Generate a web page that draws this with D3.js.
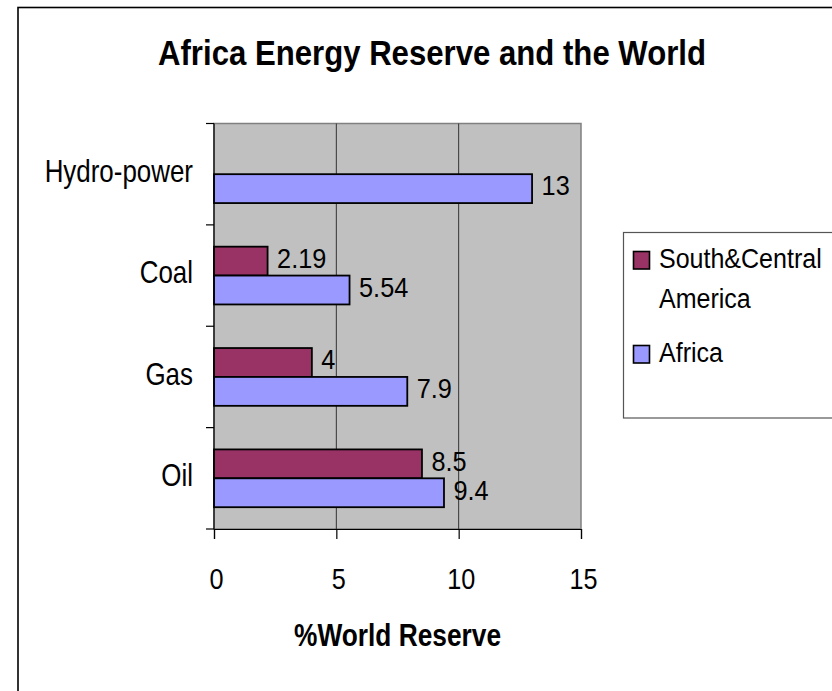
<!DOCTYPE html>
<html>
<head>
<meta charset="utf-8">
<script src="https://cdn.jsdelivr.net/npm/d3@7/dist/d3.min.js"></script>
<style>
  html, body { margin: 0; padding: 0; background: #fff; }
  svg { display: block; }
  text { font-family: "Liberation Sans", Arial, Helvetica, sans-serif; fill: #000; }
</style>
</head>
<body>
<svg id="chart" width="832" height="691"></svg>
<script>
// ---- data ----
const categories = ["Hydro-power", "Coal", "Gas", "Oil"];
const seriesNames = ["South&Central America", "Africa"];
const southCentralAmerica = [null, 2.19, 4, 8.5];
const africa = [13, 5.54, 7.9, 9.4];
const valueLabels = { sca: [null, "2.19", "4", "8.5"], africa: ["13", "5.54", "7.9", "9.4"] };
const xTicks = [0, 5, 10, 15];
const titleText = "Africa Energy Reserve and the World";
const xAxisTitle = "%World Reserve";

// ---- styles ----
const colors = ["#993366", "#9999FF"];
const svg = d3.select("#chart");

function condensedText(g, x, y, txt, size, sx, anchor, weight) {
  return g.append("text")
    .attr("transform", `translate(${x},${y}) scale(${sx},1)`)
    .attr("text-anchor", anchor || "start")
    .attr("font-size", size)
    .attr("font-weight", weight || "normal")
    .text(txt);
}

// outer chart border
svg.append("rect").attr("x", 18).attr("y", 7.5).attr("width", 900).attr("height", 900)
  .attr("fill", "#fff").attr("stroke", "#000").attr("stroke-width", 1.6);

const plot = { left: 214, right: 581, top: 123.5, bottom: 529 };
const x = d3.scaleLinear().domain([0, 15]).range([plot.left, plot.right]);
const y = d3.scaleBand().domain(categories).range([plot.top, plot.bottom]).padding(0);
const inner = d3.scaleBand().domain([0, 1]).range([y.bandwidth() * 0.215, y.bandwidth() * 0.785]).padding(0);

// plot background
svg.append("rect").attr("x", plot.left).attr("y", plot.top)
  .attr("width", plot.right - plot.left).attr("height", plot.bottom - plot.top)
  .attr("fill", "#C0C0C0").attr("stroke", "#808080").attr("stroke-width", 1.5);

// gridlines
svg.append("g").selectAll("line").data(xTicks.filter(t => t > 0 && t < 15)).join("line")
  .attr("x1", d => x(d)).attr("x2", d => x(d))
  .attr("y1", plot.top).attr("y2", plot.bottom)
  .attr("stroke", "#333").attr("stroke-width", 1);

// bars
const series = [southCentralAmerica, africa];
const labelsArr = [valueLabels.sca, valueLabels.africa];
series.forEach((vals, si) => {
  const data = categories.map((c, i) => ({ c, v: vals[i], lab: labelsArr[si][i] })).filter(d => d.v != null);
  svg.append("g").selectAll("rect").data(data).join("rect")
    .attr("x", x(0))
    .attr("y", d => y(d.c) + inner(si))
    .attr("width", d => x(d.v) - x(0))
    .attr("height", inner.bandwidth())
    .attr("fill", colors[si])
    .attr("stroke", "#000").attr("stroke-width", 1.8);
  const lg = svg.append("g");
  data.forEach(d => {
    condensedText(lg, x(d.v) + 9.5, y(d.c) + inner(si) + inner.bandwidth() / 2 + 6.8, d.lab, 27.5, 0.92);
  });
});

// left axis line and ticks
svg.append("line").attr("x1", plot.left).attr("x2", plot.left)
  .attr("y1", plot.top).attr("y2", plot.bottom).attr("stroke", "#000").attr("stroke-width", 1.2);
const bounds = categories.map(c => y(c)).concat([plot.bottom]);
svg.append("g").selectAll("line").data(bounds).join("line")
  .attr("x1", plot.left - 8).attr("x2", plot.left)
  .attr("y1", d => d).attr("y2", d => d)
  .attr("stroke", "#000").attr("stroke-width", 1.2);
const catG = svg.append("g");
categories.forEach(c => {
  condensedText(catG, 193, y(c) + y.bandwidth() / 2 + 7.8, c, 30.5, 0.85, "end");
});

// bottom axis
const xAxis = d3.axisBottom(x).tickValues(xTicks).tickSize(10).tickPadding(0).tickFormat(d3.format("d"));
const gx = svg.append("g").attr("transform", `translate(0,${plot.bottom})`).call(xAxis);
gx.select(".domain").attr("stroke", "#000").attr("stroke-width", 1.2);
gx.selectAll(".tick line").attr("stroke", "#000").attr("stroke-width", 1.2);
gx.selectAll(".tick text")
  .attr("font-size", 29).attr("font-family", "Liberation Sans, Arial, sans-serif")
  .attr("fill", "#000").attr("y", null).attr("dy", null)
  .attr("transform", "translate(2,60) scale(0.87,1)");

// title
svg.append("text").attr("x", 432).attr("y", 65).attr("text-anchor", "middle")
  .attr("font-size", 35.5).attr("font-weight", "bold")
  .attr("textLength", 548).attr("lengthAdjust", "spacingAndGlyphs")
  .text(titleText);

// x axis title
svg.append("text").attr("x", (plot.left + plot.right) / 2).attr("y", 646).attr("text-anchor", "middle")
  .attr("font-size", 32).attr("font-weight", "bold")
  .attr("textLength", 207).attr("lengthAdjust", "spacingAndGlyphs")
  .text(xAxisTitle);

// legend
const lg = svg.append("g");
lg.append("rect").attr("x", 623.5).attr("y", 232.5).attr("width", 300).attr("height", 185.5)
  .attr("fill", "#fff").attr("stroke", "#555").attr("stroke-width", 1.2);
const legendRows = [
  { lines: ["South&Central", "America"], sy: 251.5, ty: 268.3 },
  { lines: ["Africa"], sy: 345.5, ty: 361.7 }
];
legendRows.forEach((r, i) => {
  lg.append("rect").attr("x", 633.5).attr("y", r.sy).attr("width", 16).attr("height", 17.5)
    .attr("fill", colors[i]).attr("stroke", "#000").attr("stroke-width", 1.6);
  r.lines.forEach((t, j) => {
    condensedText(lg, 659, r.ty + j * 40, t, 27.5, 0.91);
  });
});
</script>
</body>
</html>
